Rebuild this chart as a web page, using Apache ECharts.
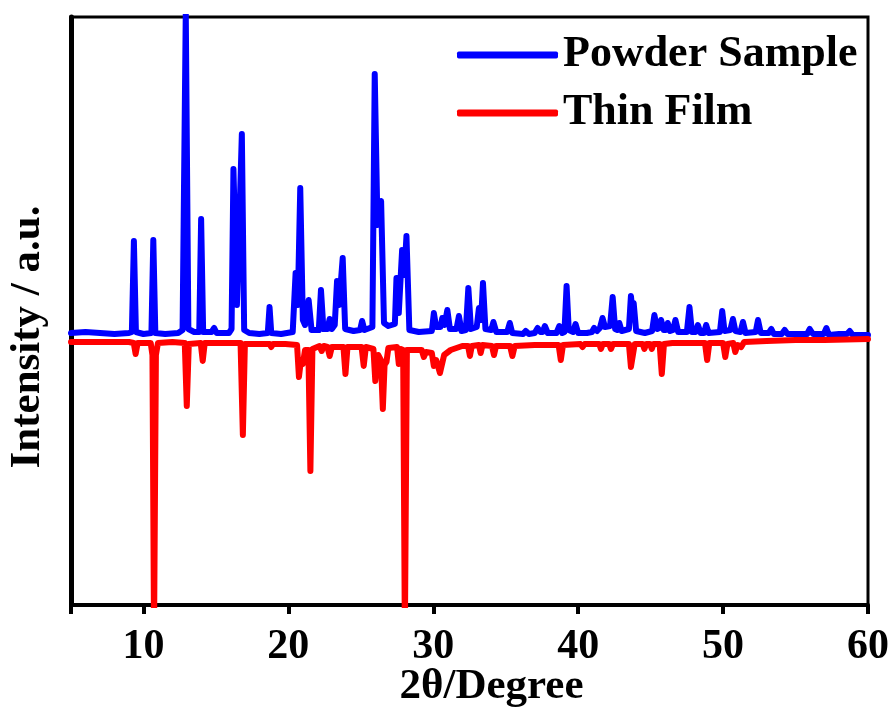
<!DOCTYPE html>
<html>
<head>
<meta charset="utf-8">
<script src="https://cdn.jsdelivr.net/npm/echarts@6.0.0/dist/echarts.min.js"></script>
<style>
html,body{margin:0;padding:0;background:#fff;}
#chart{width:893px;height:711px;}
</style>
</head>
<body>
<div id="chart"></div>
<script>
// X-axis range and tick labels
var xMin = 5, xMax = 60;
var tickLabels = ['10', '20', '30', '40', '50', '60'];
var seriesNames = ['Powder Sample', 'Thin Film'];

// Powder Sample (2θ, intensity a.u.)
var powderX = [5.0,6.0,7.0,8.0,9.0,9.2,9.34,9.48,10.0,10.55,10.68,10.82,11.5,12.4,12.7,12.92,13.1,13.5,13.85,13.98,14.12,14.7,14.88,15.05,15.9,16.08,16.21,16.45,16.55,16.79,16.95,17.3,18.0,18.58,18.70,18.82,19.5,20.3,20.5,20.65,20.82,21.0,21.15,21.40,21.6,22.1,22.25,22.42,22.7,22.85,23.0,23.2,23.36,23.5,23.75,23.92,24.5,24.95,25.09,25.25,25.8,25.96,26.15,26.4,26.6,26.9,27.35,27.46,27.62,27.85,28.0,28.15,28.35,29.0,29.9,30.04,30.2,30.5,30.62,30.78,30.97,31.15,31.6,31.77,31.95,32.25,32.42,32.6,33.0,33.15,33.3,33.43,33.6,34.0,34.15,34.35,35.1,35.28,35.45,36.2,36.38,36.6,37.0,37.2,37.4,37.55,37.7,37.9,38.5,38.7,38.9,39.05,39.2,39.35,39.65,39.82,40.0,40.6,40.95,41.1,41.3,41.5,41.68,41.85,42.2,42.38,42.55,42.7,42.84,43.0,43.5,43.64,43.74,43.83,44.0,44.6,45.1,45.26,45.45,45.6,45.72,45.9,46.05,46.18,46.35,46.55,46.71,46.9,47.5,47.68,47.85,48.1,48.26,48.45,48.68,48.83,49.0,49.78,49.94,50.1,50.5,50.68,50.85,51.2,51.37,51.55,52.25,52.41,52.6,53.15,53.33,53.5,54.05,54.25,54.45,55.0,55.8,55.98,56.2,56.95,57.13,57.3,58.0,58.55,58.74,58.95,60.0];
var powderY = [272,273,272,271,272,273,364,273,271,272,365,272,271,272,275,592,276,273,273,386,273,273,277,272,272,276,436,300,300,471,275,272,271,272,298,272,271,273,332,300,417,285,280,305,275,275,315,276,276,286,276,280,324,300,347,276,274,275,284,275,278,531,380,404,282,279,281,327,292,355,330,369,275,273,274,292,278,278,287,280,295,276,276,289,274,275,317,276,278,297,285,322,276,275,283,273,273,282,272,271,274,271,272,277,273,273,279,272,272,279,272,273,319,275,273,281,272,272,273,277,274,277,287,278,279,308,276,275,282,274,276,309,295,302,274,272,274,290,276,277,285,275,275,282,274,275,285,273,273,298,273,273,280,272,272,280,272,273,294,274,275,286,274,273,283,272,273,285,272,272,276,271,271,275,271,271,271,276,271,271,277,270,271,271,274,270,270];

// Thin Film (2θ, intensity a.u., plotted inverted below)
var filmX = [5.0,7.0,9.0,9.33,9.46,9.6,10.5,10.62,10.73,10.86,11.0,12.0,12.85,12.99,13.13,13.95,14.09,14.23,15.5,16.7,16.86,17.0,18.0,18.7,18.82,18.95,19.8,20.6,20.73,20.87,21.0,21.15,21.38,21.52,21.66,22.15,22.3,22.45,22.7,22.85,23.0,23.8,23.94,24.08,25.05,25.2,25.35,25.87,26.0,26.12,26.2,26.38,26.52,26.64,26.77,26.9,27.5,27.62,27.76,27.92,28.04,28.18,29.2,29.35,29.5,29.9,30.04,30.2,30.46,30.75,31.2,32.0,32.4,32.53,32.66,33.15,33.27,33.4,34.05,34.19,34.33,35.3,35.46,35.62,37.0,38.65,38.8,38.95,40.15,40.3,40.45,41.45,41.57,41.7,42.14,42.26,42.4,43.5,43.64,43.76,43.9,44.45,44.57,44.7,44.95,45.08,45.2,45.62,45.77,45.92,46.5,47.5,48.75,48.9,49.05,50.0,50.15,50.3,50.7,50.84,51.0,51.25,51.45,53.0,55.0,57.0,60.0];
var filmY = [263,263,263,262,251,262,262,250,-30,250,262,263,262,199,261,262,244,262,262,262,170,261,261,261,258,261,261,260,228,245,241,255,255,134,256,259,254,259,258,249,258,258,231,258,258,239,258,256,224,245,250,245,196,240,243,257,258,241,256,255,-30,255,255,248,253,252,239,245,232,250,255,259,259,249,259,260,252,260,259,250,259,259,249,259,260,260,245,260,261,258,261,261,256,261,261,256,261,261,238,240,261,261,256,261,261,256,261,261,231,261,262,262,262,245,262,262,248,261,262,253,260,258,263,264,265,265,266];

function pairs(xs, ys) {
  var out = [];
  for (var i = 0; i < xs.length; i++) out.push([xs[i], ys[i]]);
  return out;
}

var fontFam = '"Liberation Serif", "Times New Roman", serif';
var chart = echarts.init(document.getElementById('chart'), null, {renderer: 'canvas'});
chart.setOption({
  animation: false,
  backgroundColor: '#ffffff',
  grid: {
    left: 71, right: 25, top: 17, bottom: 106,
    outerBoundsMode: 'none',
    containLabel: false,
    show: true, borderColor: '#000', borderWidth: 3, backgroundColor: 'transparent'
  },
  legend: {
    orient: 'vertical',
    left: 452, top: 28,
    itemGap: 14,
    itemWidth: 101, itemHeight: 7,
    icon: 'roundRect',
    data: seriesNames,
    textStyle: {fontFamily: fontFam, fontWeight: 'bold', fontSize: 44, color: '#000'}
  },
  xAxis: {
    type: 'value',
    min: xMin, max: xMax,
    splitNumber: 6,
    name: '2θ/Degree',
    nameLocation: 'middle',
    nameGap: 60,
    nameMoveOverlap: false,
    nameTextStyle: {fontFamily: fontFam, fontWeight: 'bold', fontSize: 43, color: '#000', padding: [0, 0, 0, 44]},
    axisLine: {show: true, lineStyle: {color: '#000', width: 4}},
    axisTick: {show: true, inside: false, length: 9, lineStyle: {color: '#000', width: 4}},
    axisLabel: {
      margin: 21,
      fontFamily: fontFam, fontWeight: 'bold', fontSize: 42, color: '#000',
      formatter: function (v) {
        var s = String(Math.round(v));
        return tickLabels.indexOf(s) >= 0 ? s : '';
      }
    },
    splitLine: {show: false}
  },
  yAxis: {
    type: 'value',
    min: 0, max: 588,
    name: 'Intensity / a.u.',
    nameLocation: 'middle',
    nameGap: 22,
    nameRotate: 90,
    nameMoveOverlap: false,
    nameTextStyle: {fontFamily: fontFam, fontWeight: 'bold', fontSize: 43, color: '#000', padding: [0, 52, 0, 0]},
    axisLine: {show: true, lineStyle: {color: '#000', width: 5}},
    axisTick: {show: false},
    axisLabel: {show: false},
    splitLine: {show: false}
  },
  series: [
    {
      name: seriesNames[0], type: 'line', showSymbol: false, symbol: 'none',
      data: pairs(powderX, powderY),
      color: '#0000ff',
      lineStyle: {color: '#0000ff', width: 6, join: 'round', cap: 'round'},
      clip: true
    },
    {
      name: seriesNames[1], type: 'line', showSymbol: false, symbol: 'none',
      data: pairs(filmX, filmY),
      color: '#ff0000',
      lineStyle: {color: '#ff0000', width: 6, join: 'round', cap: 'round'},
      clip: true
    }
  ]
});
</script>
</body>
</html>
